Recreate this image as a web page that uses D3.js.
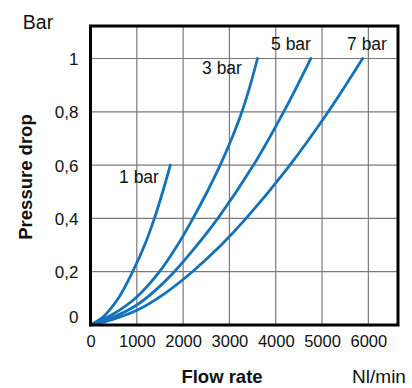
<!DOCTYPE html>
<html>
<head>
<meta charset="utf-8">
<script src="https://cdn.jsdelivr.net/npm/d3@7"></script>
<style>
  html, body { margin: 0; padding: 0; background: #fff; }
  svg { display: block; font-family: Arial, "Liberation Sans", sans-serif; }
</style>
</head>
<body>
<svg id="chart" width="412" height="388"></svg>
<script>
// ---- data (flow in Nl/min, pressure drop in bar) ----
const seriesNames = ["1 bar", "3 bar", "5 bar", "7 bar"];
const flow1 = [0, 300, 600, 910, 1170, 1380, 1560, 1724];
const drop1 = [0, 0.035, 0.1, 0.2, 0.3, 0.4, 0.5, 0.6];
const flow3 = [0, 500, 1000, 1490, 1880, 2213, 2520, 2800, 3050, 3270, 3450, 3606];
const drop3 = [0, 0.042, 0.105, 0.2, 0.3, 0.4, 0.5, 0.6, 0.7, 0.8, 0.9, 1.0];
const flow5 = [0, 500, 1000, 1400, 1810, 2270, 2750, 3520, 4203, 4756];
const drop5 = [0, 0.03, 0.075, 0.13, 0.2, 0.293, 0.4, 0.6, 0.81, 1.0];
const flow7 = [0, 500, 1000, 1600, 2200, 2800, 3350, 4260, 5094, 5877];
const drop7 = [0, 0.022, 0.055, 0.118, 0.2, 0.296, 0.398, 0.59, 0.79, 1.0];
const xTicks = [0, 1000, 2000, 3000, 4000, 5000, 6000];
const yTicks = [0, 0.2, 0.4, 0.6, 0.8, 1];
const yTickLabels = ["0", "0,2", "0,4", "0,6", "0,8", "1"];

const seriesFlows = [flow1, flow3, flow5, flow7];
const seriesDrops = [drop1, drop3, drop5, drop7];

// ---- layout ----
const L = 90.5, R = 398, T = 26, B = 325;
const svg = d3.select("#chart");
const x = d3.scaleLinear().domain([0, 6640]).range([L, R]);
const y = d3.scaleLinear().domain([0, 1.122]).range([B, T]);
const blue = "#1472b9";

// grid
const g = svg.append("g");
g.selectAll("line.v").data(xTicks.filter(d => d > 0)).join("line")
  .attr("x1", d => x(d)).attr("x2", d => x(d))
  .attr("y1", T).attr("y2", B)
  .attr("stroke", "#7a7a7a").attr("stroke-width", 1.2);
g.selectAll("line.h").data(yTicks.filter(d => d > 0)).join("line")
  .attr("x1", L).attr("x2", R)
  .attr("y1", d => y(d)).attr("y2", d => y(d))
  .attr("stroke", "#7a7a7a").attr("stroke-width", 1.2);

// curves
const line = d3.line().x(d => x(d[0])).y(d => y(d[1])).curve(d3.curveCatmullRom.alpha(0.5));
seriesFlows.forEach((fl, i) => {
  const pts = fl.map((f, j) => [f, seriesDrops[i][j]]);
  svg.append("path").attr("d", line(pts))
    .attr("fill", "none").attr("stroke", blue)
    .attr("stroke-width", 2.8).attr("stroke-linecap", "round");
});

// frame
svg.append("rect").attr("x", L).attr("y", T).attr("width", R - L).attr("height", B - T)
  .attr("fill", "none").attr("stroke", "#000").attr("stroke-width", 3);

// axes labels via d3 axes (no domain/ticks lines drawn)
const xAxis = d3.axisBottom(x).tickValues(xTicks).tickSize(0).tickPadding(0).tickFormat(d3.format("d"));
const xa = svg.append("g").attr("transform", `translate(0,${B})`).call(xAxis);
xa.select(".domain").remove();
xa.selectAll("text").attr("font-size", 16.5).attr("fill", "#111")
  .attr("font-family", "Arial, 'Liberation Sans', sans-serif")
  .attr("dy", null).attr("y", 22);

const yAxis = d3.axisLeft(y).tickValues(yTicks).tickSize(0).tickPadding(0)
  .tickFormat((d, i) => yTickLabels[i]);
const ya = svg.append("g").attr("transform", `translate(${L},0)`).call(yAxis);
ya.select(".domain").remove();
ya.selectAll("text").attr("font-size", 17).attr("fill", "#111")
  .attr("font-family", "Arial, 'Liberation Sans', sans-serif")
  .attr("x", -12).attr("dy", "0.35em");
ya.selectAll(".tick").filter(d => d === 0).select("text").attr("dy", "-0.12em");

// series labels
const labelPos = [[139, 183], [222, 74], [291, 50], [367, 50]];
seriesNames.forEach((n, i) => {
  svg.append("text").attr("x", labelPos[i][0]).attr("y", labelPos[i][1])
    .attr("text-anchor", "middle").attr("font-size", 17.5).attr("fill", "#111").text(n);
});

// titles
svg.append("text").attr("x", 38).attr("y", 29).attr("text-anchor", "middle")
  .attr("font-size", 19.5).attr("fill", "#111").text("Bar");
svg.append("text").attr("x", 379).attr("y", 383).attr("text-anchor", "middle")
  .attr("font-size", 19).attr("fill", "#111").text("Nl/min");
svg.append("text").attr("x", 222).attr("y", 383).attr("text-anchor", "middle")
  .attr("font-size", 18.5).attr("font-weight", "bold").attr("fill", "#111").text("Flow rate");
svg.append("text").attr("transform", "translate(32,177) rotate(-90)")
  .attr("text-anchor", "middle").attr("font-size", 18.5).attr("font-weight", "bold")
  .attr("fill", "#111").text("Pressure drop");
</script>
</body>
</html>
